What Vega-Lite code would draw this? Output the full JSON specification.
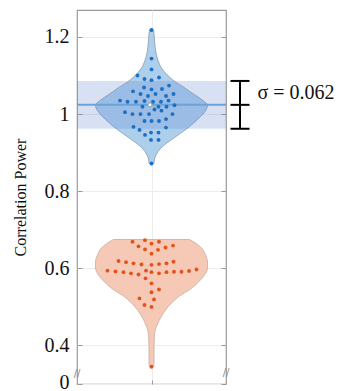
{
  "$schema": "https://vega.github.io/schema/vega-lite/v6.json",
  "width": 149,
  "height": 374,
  "autosize": {"type": "none"},
  "padding": {"left": 77, "top": 10, "right": 114, "bottom": 7},
  "background": "white",
  "config": {
    "view": {"stroke": "#9a9a9a", "strokeWidth": 1.2},
    "font": "Liberation Serif"
  },
  "datasets": {
    "violin": [
      {"g": "A", "y": 1.2207, "lo": 0, "hi": 0},
      {"g": "A", "y": 1.2181, "lo": -2, "hi": 2},
      {"g": "A", "y": 1.1922, "lo": -3, "hi": 3},
      {"g": "A", "y": 1.1663, "lo": -4, "hi": 4},
      {"g": "A", "y": 1.1481, "lo": -5.5, "hi": 5.5},
      {"g": "A", "y": 1.1325, "lo": -7.5, "hi": 7.5},
      {"g": "A", "y": 1.1196, "lo": -10, "hi": 10},
      {"g": "A", "y": 1.1092, "lo": -13, "hi": 13},
      {"g": "A", "y": 1.0962, "lo": -18, "hi": 18},
      {"g": "A", "y": 1.0833, "lo": -24, "hi": 24},
      {"g": "A", "y": 1.0703, "lo": -32, "hi": 32},
      {"g": "A", "y": 1.0573, "lo": -39, "hi": 39},
      {"g": "A", "y": 1.0444, "lo": -46.5, "hi": 46.5},
      {"g": "A", "y": 1.034, "lo": -52, "hi": 52},
      {"g": "A", "y": 1.0236, "lo": -56, "hi": 56},
      {"g": "A", "y": 1.0132, "lo": -55, "hi": 55},
      {"g": "A", "y": 1.0003, "lo": -51.5, "hi": 51.5},
      {"g": "A", "y": 0.9873, "lo": -46.5, "hi": 46.5},
      {"g": "A", "y": 0.9743, "lo": -41, "hi": 41},
      {"g": "A", "y": 0.9614, "lo": -35, "hi": 35},
      {"g": "A", "y": 0.9484, "lo": -28, "hi": 28},
      {"g": "A", "y": 0.9354, "lo": -21, "hi": 21},
      {"g": "A", "y": 0.9224, "lo": -14, "hi": 14},
      {"g": "A", "y": 0.9095, "lo": -8.5, "hi": 8.5},
      {"g": "A", "y": 0.8965, "lo": -5, "hi": 5},
      {"g": "A", "y": 0.8836, "lo": -3, "hi": 3},
      {"g": "A", "y": 0.8732, "lo": -2.5, "hi": 2.5},
      {"g": "A", "y": 0.868, "lo": 0, "hi": 0},
      {"g": "B", "y": 0.6748, "lo": -38, "hi": 38},
      {"g": "B", "y": 0.6657, "lo": -44, "hi": 44},
      {"g": "B", "y": 0.6527, "lo": -50, "hi": 50},
      {"g": "B", "y": 0.6346, "lo": -54, "hi": 54},
      {"g": "B", "y": 0.6164, "lo": -56, "hi": 56},
      {"g": "B", "y": 0.6009, "lo": -56, "hi": 56},
      {"g": "B", "y": 0.5827, "lo": -53, "hi": 53},
      {"g": "B", "y": 0.5646, "lo": -47, "hi": 47},
      {"g": "B", "y": 0.5464, "lo": -39, "hi": 39},
      {"g": "B", "y": 0.5282, "lo": -28, "hi": 28},
      {"g": "B", "y": 0.5101, "lo": -20, "hi": 20},
      {"g": "B", "y": 0.4919, "lo": -14, "hi": 14},
      {"g": "B", "y": 0.4738, "lo": -9.5, "hi": 9.5},
      {"g": "B", "y": 0.4556, "lo": -6, "hi": 6},
      {"g": "B", "y": 0.4375, "lo": -3.5, "hi": 3.5},
      {"g": "B", "y": 0.4193, "lo": -2.75, "hi": 2.75},
      {"g": "B", "y": 0.3882, "lo": -2.5, "hi": 2.5},
      {"g": "B", "y": 0.3571, "lo": -2.5, "hi": 2.5},
      {"g": "B", "y": 0.3467, "lo": -2.25, "hi": 2.25},
      {"g": "B", "y": 0.3402, "lo": 0, "hi": 0}
    ],
    "dots": [
      {"g": "A", "dx": 0, "y": 1.218}, {"g": "A", "dx": 0, "y": 1.144}, {"g": "A", "dx": 0, "y": 1.116},
      {"g": "A", "dx": -14, "y": 1.1}, {"g": "A", "dx": -7, "y": 1.091}, {"g": "A", "dx": 0, "y": 1.088},
      {"g": "A", "dx": 7.5, "y": 1.095}, {"g": "A", "dx": 17.5, "y": 1.074}, {"g": "A", "dx": -7.5, "y": 1.069},
      {"g": "A", "dx": 0, "y": 1.064}, {"g": "A", "dx": 10.5, "y": 1.065}, {"g": "A", "dx": -18.5, "y": 1.059},
      {"g": "A", "dx": -11, "y": 1.052}, {"g": "A", "dx": -3.5, "y": 1.047}, {"g": "A", "dx": 4, "y": 1.052},
      {"g": "A", "dx": 14.5, "y": 1.047}, {"g": "A", "dx": 22, "y": 1.052}, {"g": "A", "dx": -31.5, "y": 1.035},
      {"g": "A", "dx": -24, "y": 1.032}, {"g": "A", "dx": -15.5, "y": 1.032}, {"g": "A", "dx": -7, "y": 1.034},
      {"g": "A", "dx": 1.5, "y": 1.032}, {"g": "A", "dx": 9.5, "y": 1.032}, {"g": "A", "dx": 17, "y": 1.035},
      {"g": "A", "dx": -9, "y": 1.019}, {"g": "A", "dx": 7, "y": 1.019}, {"g": "A", "dx": 15, "y": 1.019},
      {"g": "A", "dx": 23, "y": 1.023}, {"g": "A", "dx": -26.5, "y": 1.005}, {"g": "A", "dx": -19, "y": 1.0},
      {"g": "A", "dx": -11, "y": 1.0}, {"g": "A", "dx": -2.5, "y": 1.0}, {"g": "A", "dx": 3, "y": 1.012},
      {"g": "A", "dx": 10, "y": 1.009}, {"g": "A", "dx": 21, "y": 1.0}, {"g": "A", "dx": -7, "y": 0.982},
      {"g": "A", "dx": 0, "y": 0.982}, {"g": "A", "dx": 7.5, "y": 0.982}, {"g": "A", "dx": 14.5, "y": 0.987},
      {"g": "A", "dx": -18, "y": 0.967}, {"g": "A", "dx": -12, "y": 0.959}, {"g": "A", "dx": -6.5, "y": 0.946},
      {"g": "A", "dx": -0.5, "y": 0.952}, {"g": "A", "dx": 7, "y": 0.952}, {"g": "A", "dx": 14.5, "y": 0.965},
      {"g": "A", "dx": -0.5, "y": 0.933}, {"g": "A", "dx": 7, "y": 0.933}, {"g": "A", "dx": 0, "y": 0.872},
      {"g": "B", "dx": -19, "y": 0.669}, {"g": "B", "dx": -6.5, "y": 0.673}, {"g": "B", "dx": 0, "y": 0.664},
      {"g": "B", "dx": 7.5, "y": 0.669}, {"g": "B", "dx": -13, "y": 0.657}, {"g": "B", "dx": -6.5, "y": 0.649},
      {"g": "B", "dx": 0, "y": 0.638}, {"g": "B", "dx": 6.5, "y": 0.648}, {"g": "B", "dx": 14, "y": 0.654},
      {"g": "B", "dx": 21.5, "y": 0.659}, {"g": "B", "dx": -33, "y": 0.619}, {"g": "B", "dx": -25.5, "y": 0.616},
      {"g": "B", "dx": -18, "y": 0.613}, {"g": "B", "dx": -10, "y": 0.61}, {"g": "B", "dx": 0, "y": 0.609},
      {"g": "B", "dx": 7.5, "y": 0.611}, {"g": "B", "dx": 15, "y": 0.613}, {"g": "B", "dx": 22, "y": 0.617},
      {"g": "B", "dx": -44, "y": 0.594}, {"g": "B", "dx": -36, "y": 0.592}, {"g": "B", "dx": -28, "y": 0.59},
      {"g": "B", "dx": -20.5, "y": 0.587}, {"g": "B", "dx": -13, "y": 0.584}, {"g": "B", "dx": -5.5, "y": 0.594},
      {"g": "B", "dx": 0, "y": 0.59}, {"g": "B", "dx": 7.5, "y": 0.587}, {"g": "B", "dx": 15, "y": 0.59},
      {"g": "B", "dx": 22.5, "y": 0.591}, {"g": "B", "dx": 30, "y": 0.591}, {"g": "B", "dx": 37.5, "y": 0.593},
      {"g": "B", "dx": 45, "y": 0.597}, {"g": "B", "dx": -6, "y": 0.574}, {"g": "B", "dx": 0, "y": 0.561},
      {"g": "B", "dx": 0, "y": 0.538}, {"g": "B", "dx": 7.5, "y": 0.545}, {"g": "B", "dx": -12, "y": 0.522},
      {"g": "B", "dx": 2.5, "y": 0.519}, {"g": "B", "dx": -7, "y": 0.505}, {"g": "B", "dx": 0, "y": 0.5},
      {"g": "B", "dx": 0, "y": 0.345}
    ],
    "band": [{"lo": 0.962, "hi": 1.086, "m": 1.024, "dx": -1.5}],
    "eb": [
      {"x1": 88.5, "x2": 88.5, "y1": 0.962, "y2": 1.086},
      {"x1": 79, "x2": 98, "y1": 1.086, "y2": 1.086},
      {"x1": 79, "x2": 98, "y1": 1.024, "y2": 1.024},
      {"x1": 79, "x2": 98, "y1": 0.962, "y2": 0.962}
    ],
    "note": [{"dx": 106, "y": 1.055, "t": "σ = 0.062"}],
    "breaks": [{"dx": -74.5, "y": 0.327}, {"dx": 74.5, "y": 0.328}]
  },
  "layer": [
    {
      "data": {"name": "violin"},
      "transform": [{"filter": "datum.g == 'A'"}],
      "mark": {"type": "area", "orient": "horizontal", "interpolate": "monotone", "fill": "#aecfeb", "stroke": "#8b9bb0", "strokeWidth": 0.8},
      "encoding": {
        "x": {"field": "lo", "type": "quantitative",
          "scale": {"domain": [-74.5, 74.5], "nice": false, "zero": false},
          "axis": {"values": [0], "labels": false, "title": null, "domain": false, "grid": true, "gridColor": "#ececec", "ticks": true, "tickSize": -4, "tickColor": "#999"}},
        "x2": {"field": "hi"},
        "y": {"field": "y", "type": "quantitative",
          "scale": {"domain": [0.3, 1.27], "nice": false, "zero": false},
          "axis": {
            "values": [0.3, 0.4, 0.6, 0.8, 1, 1.2],
            "labelExpr": "datum.value < 0.35 ? '0' : format(datum.value, '.2~f')",
            "labelOffset": {"condition": {"test": "datum.value < 0.35", "value": -2}, "value": 0},
            "title": "Correlation Power",
            "titleFont": "Liberation Serif", "titleFontSize": 16, "titleFontWeight": "normal", "titleColor": "#111",
            "titlePadding": 16,
            "labelFont": "Liberation Serif", "labelFontSize": 20, "labelColor": "#111", "labelPadding": 13,
            "domain": false, "grid": true, "gridColor": "#ececec",
            "tickSize": -5, "tickColor": "#999"
          }}
      }
    },
    {
      "data": {"name": "violin"},
      "transform": [{"filter": "datum.g == 'B'"}],
      "mark": {"type": "area", "orient": "horizontal", "interpolate": "monotone", "fill": "#f6c9b6", "stroke": "#c8ab9f", "strokeWidth": 0.8},
      "encoding": {
        "x": {"field": "lo", "type": "quantitative", "scale": {"domain": [-74.5, 74.5], "nice": false, "zero": false}},
        "x2": {"field": "hi"},
        "y": {"field": "y", "type": "quantitative", "scale": {"domain": [0.3, 1.27], "nice": false, "zero": false}, "axis": null}
      }
    },
    {
      "data": {"name": "band"},
      "mark": {"type": "rect", "fill": "#5a82d2", "opacity": 0.24},
      "encoding": {
        "y": {"field": "lo", "type": "quantitative", "scale": {"domain": [0.3, 1.27], "nice": false, "zero": false},
          "axis": {"orient": "right", "values": [0.3, 0.4, 0.6, 0.8, 1, 1.2], "labels": false, "title": null, "domain": false, "grid": false, "tickSize": -5, "tickColor": "#999"}},
        "y2": {"field": "hi"}
      }
    },
    {
      "data": {"name": "band"},
      "mark": {"type": "rule", "stroke": "#6aa3dc", "strokeWidth": 2},
      "encoding": {
        "y": {"field": "m", "type": "quantitative", "scale": {"domain": [0.3, 1.27], "nice": false, "zero": false}, "axis": null}
      }
    },
    {
      "data": {"name": "dots"},
      "mark": {"type": "circle", "size": 15, "opacity": 1},
      "encoding": {
        "x": {"field": "dx", "type": "quantitative", "scale": {"domain": [-74.5, 74.5], "nice": false, "zero": false}},
        "y": {"field": "y", "type": "quantitative", "scale": {"domain": [0.3, 1.27], "nice": false, "zero": false}, "axis": null},
        "color": {"field": "g", "type": "nominal", "scale": {"domain": ["A", "B"], "range": ["#1b6fc4", "#e2531c"]}, "legend": null}
      }
    },
    {
      "data": {"name": "band"},
      "mark": {"type": "point", "filled": true, "size": 14, "fill": "white", "stroke": "#999", "strokeWidth": 0.8, "opacity": 1},
      "encoding": {
        "x": {"field": "dx", "type": "quantitative", "scale": {"domain": [-74.5, 74.5], "nice": false, "zero": false}},
        "y": {"field": "m", "type": "quantitative", "scale": {"domain": [0.3, 1.27], "nice": false, "zero": false}, "axis": null}
      }
    },
    {
      "data": {"name": "eb"},
      "mark": {"type": "rule", "stroke": "#000", "strokeWidth": 2},
      "encoding": {
        "x": {"field": "x1", "type": "quantitative", "scale": {"domain": [-74.5, 74.5], "nice": false, "zero": false}},
        "x2": {"field": "x2"},
        "y": {"field": "y1", "type": "quantitative", "scale": {"domain": [0.3, 1.27], "nice": false, "zero": false}, "axis": null},
        "y2": {"field": "y2"}
      }
    },
    {
      "data": {"name": "note"},
      "mark": {"type": "text", "align": "left", "baseline": "middle", "font": "Liberation Serif", "fontSize": 20, "color": "#111"},
      "encoding": {
        "x": {"field": "dx", "type": "quantitative", "scale": {"domain": [-74.5, 74.5], "nice": false, "zero": false}},
        "y": {"field": "y", "type": "quantitative", "scale": {"domain": [0.3, 1.27], "nice": false, "zero": false}, "axis": null},
        "text": {"field": "t"}
      }
    },
    {
      "data": {"name": "breaks"},
      "mark": {"type": "text", "align": "center", "baseline": "middle", "font": "DejaVu Sans", "fontSize": 10, "color": "#888", "text": "//"},
      "encoding": {
        "x": {"field": "dx", "type": "quantitative", "scale": {"domain": [-74.5, 74.5], "nice": false, "zero": false}},
        "y": {"field": "y", "type": "quantitative", "scale": {"domain": [0.3, 1.27], "nice": false, "zero": false}, "axis": null}
      }
    }
  ],
  "resolve": {"axis": {"y": "independent"}}
}
